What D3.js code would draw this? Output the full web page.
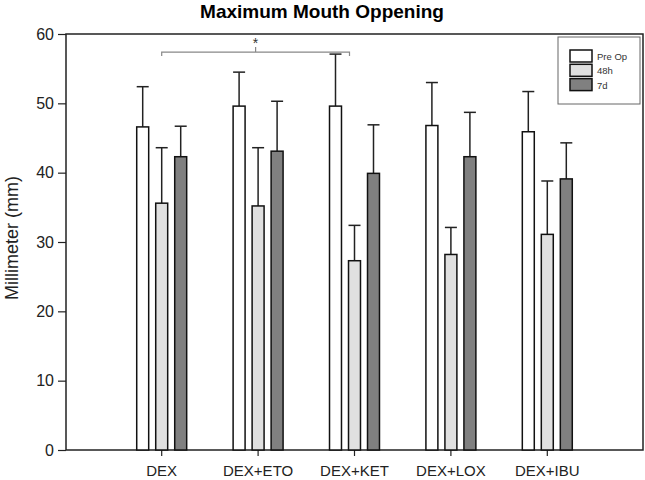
<!DOCTYPE html>
<html>
<head>
<meta charset="utf-8">
<script src="https://cdn.jsdelivr.net/npm/d3@7"></script>
<style>
  body { margin: 0; background: #fff; }
  svg { display: block; }
</style>
</head>
<body>
<svg id="chart" width="645" height="480"></svg>
<script>
// data (mean and upper SD)
const groups = ["DEX", "DEX+ETO", "DEX+KET", "DEX+LOX", "DEX+IBU"];
const series = ["Pre Op", "48h", "7d"];
const preOp = [46.6, 49.6, 49.6, 46.8, 45.9];
const preOpSd = [5.8, 4.9, 7.5, 6.2, 5.8];
const h48 = [35.6, 35.2, 27.3, 28.2, 31.1];
const h48Sd = [8.0, 8.4, 5.1, 3.9, 7.7];
const d7 = [42.3, 43.1, 39.9, 42.3, 39.1];
const d7Sd = [4.4, 7.2, 7.0, 6.4, 5.2];
const yTicks = [0, 10, 20, 30, 40, 50, 60];

const colors = {"Pre Op": "#ffffff", "48h": "#e0e0e0", "7d": "#808080"};

const svg = d3.select("#chart")
  .attr("font-family", "Arial, 'Liberation Sans', sans-serif");

const y = d3.scaleLinear().domain([0, 60]).range([450, 34]);
const x = d3.scaleBand().domain(groups).range([113.5, 595.5]);
const xs = d3.scaleBand().domain(series).range([-28.5, 28.5])
  .paddingInner(0.37).paddingOuter(0.185);

const rows = [];
groups.forEach((g, i) => {
  rows.push({g: g, s: "Pre Op", v: preOp[i], sd: preOpSd[i]});
  rows.push({g: g, s: "48h", v: h48[i], sd: h48Sd[i]});
  rows.push({g: g, s: "7d", v: d7[i], sd: d7Sd[i]});
});

// title
svg.append("text")
  .attr("x", 322).attr("y", 18)
  .attr("text-anchor", "middle")
  .attr("font-size", 19).attr("font-weight", "bold")
  .text("Maximum Mouth Oppening");

// frame
svg.append("rect")
  .attr("x", 66).attr("y", 34)
  .attr("width", 643 - 66).attr("height", 450 - 34)
  .attr("fill", "none").attr("stroke", "#222").attr("stroke-width", 1.5);

// y axis
const yAxis = svg.append("g")
  .attr("transform", "translate(66,0)")
  .call(d3.axisLeft(y).tickValues(yTicks).tickSize(8).tickPadding(4))
  .call(g => g.select(".domain").remove());
yAxis.selectAll("line").attr("stroke", "#222").attr("stroke-width", 1.2);
yAxis.selectAll("text").attr("font-size", 16).attr("fill", "#222")
  .attr("font-family", "Arial, 'Liberation Sans', sans-serif");

svg.append("text")
  .attr("transform", "translate(18,238) rotate(-90)")
  .attr("text-anchor", "middle")
  .attr("font-size", 18).attr("fill", "#222")
  .text("Millimeter (mm)");

// x axis
const xAxis = svg.append("g")
  .attr("transform", "translate(0,450)")
  .call(d3.axisBottom(x).tickSize(6).tickPadding(9))
  .call(g => g.select(".domain").remove());
xAxis.selectAll("line").attr("stroke", "#222").attr("stroke-width", 1.2);
xAxis.selectAll("text").attr("font-size", 15).attr("fill", "#222")
  .attr("font-family", "Arial, 'Liberation Sans', sans-serif");

// error bars (upper only)
const cx = d => x(d.g) + x.bandwidth() / 2 + xs(d.s) + xs.bandwidth() / 2;
const err = svg.append("g").attr("stroke", "#222").attr("stroke-width", 1.5);
err.selectAll(".stem").data(rows).enter().append("line")
  .attr("x1", cx).attr("x2", cx)
  .attr("y1", d => y(d.v)).attr("y2", d => y(d.v + d.sd));
err.selectAll(".cap").data(rows).enter().append("line")
  .attr("x1", d => cx(d) - 6).attr("x2", d => cx(d) + 6)
  .attr("y1", d => y(d.v + d.sd)).attr("y2", d => y(d.v + d.sd));

// bars
svg.append("g").selectAll("rect").data(rows).enter().append("rect")
  .attr("x", d => x(d.g) + x.bandwidth() / 2 + xs(d.s))
  .attr("y", d => y(d.v))
  .attr("width", xs.bandwidth())
  .attr("height", d => y(0) - y(d.v))
  .attr("fill", d => colors[d.s])
  .attr("stroke", "#111").attr("stroke-width", 1.5);

// significance bracket DEX vs DEX+KET
const bx1 = x("DEX") + x.bandwidth() / 2;
const bx2 = x("DEX+KET") + x.bandwidth() / 2 - 5;
const by = y(57.4);
const bm = (bx1 + bx2) / 2;
svg.append("path")
  .attr("d", `M${bx1},${by + 4}V${by}H${bx2}V${by + 4}M${bm},${by}V${by - 5}`)
  .attr("fill", "none").attr("stroke", "#888").attr("stroke-width", 1.2);
svg.append("text")
  .attr("x", bm).attr("y", by - 4)
  .attr("text-anchor", "middle")
  .attr("font-size", 14).attr("fill", "#333")
  .text("*");

// legend
const lg = svg.append("g");
lg.append("rect")
  .attr("x", 558).attr("y", 37).attr("width", 82).attr("height", 67)
  .attr("fill", "#fff").attr("stroke", "#666").attr("stroke-width", 1);
series.forEach((s, i) => {
  lg.append("rect")
    .attr("x", 570).attr("y", 50 + i * 14.3)
    .attr("width", 22).attr("height", 12)
    .attr("fill", colors[s]).attr("stroke", "#111").attr("stroke-width", 1.5);
  lg.append("text")
    .attr("x", 597).attr("y", 60 + i * 14.3)
    .attr("font-size", 9.5).attr("fill", "#333")
    .text(s);
});
</script>
</body>
</html>
